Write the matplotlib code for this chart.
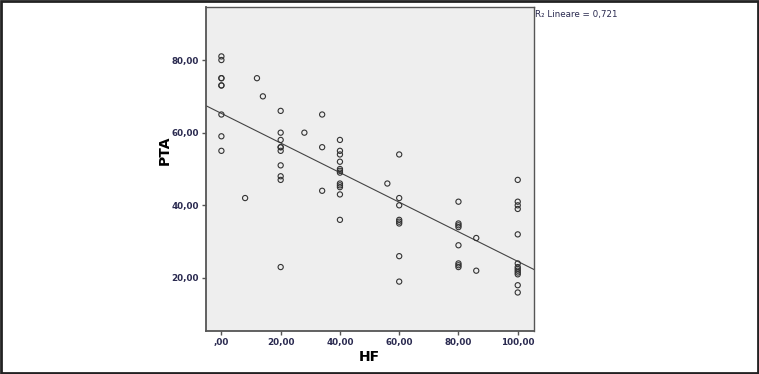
import numpy as np
from matplotlib import pyplot as plt
from matplotlib.ticker import FuncFormatter

# HF values and PTA values grouped per HF level
hf_levels = [0, 8, 12, 14, 20, 28, 34, 40, 56, 60, 80, 86, 100]
pta_groups = [
    [81, 80, 75, 75, 73, 73, 65, 59, 55],
    [42],
    [75],
    [70],
    [66, 60, 58, 56, 56, 55, 51, 48, 47, 23],
    [60],
    [65, 56, 44],
    [58, 55, 54, 52, 50, 49.5, 49, 46, 45.5, 45, 43, 36],
    [46],
    [54, 42, 40, 36, 35.5, 35, 26, 19],
    [41, 35, 34.5, 34, 29, 24, 23.5, 23],
    [31, 22],
    [47, 41, 40, 39, 32, 24, 23, 22.5, 22, 21.5, 21, 18, 16],
]
r2_label = "R\u2082 Lineare = 0,721"
x_ticks = [0, 20, 40, 60, 80, 100]
y_ticks = [20, 40, 60, 80]


def fmt(v, pos):
    s = "%.2f" % v
    s = s.replace(".", ",")
    if s.startswith("0,"):
        s = s[1:]
    return s


def main():
    hf = np.concatenate([[h] * len(g) for h, g in zip(hf_levels, pta_groups)])
    pta = np.concatenate(pta_groups)

    fig = plt.figure(figsize=(7.59, 3.74), dpi=100)
    ax = fig.add_axes([0.2714, 0.115, 0.4322, 0.8663])
    ax.set_facecolor("#eeeeee")

    ax.scatter(hf, pta, s=14, facecolors="none", edgecolors="#333333", linewidths=0.8, zorder=3)

    xlim = (-5.2, 105.5)
    slope, icpt = np.polyfit(hf, pta, 1)
    xs = np.array(xlim)
    ax.plot(xs, icpt + slope * xs, color="#444444", lw=0.8, zorder=2)

    ax.set_xlim(*xlim)
    ax.set_ylim(5.4, 94.6)
    ax.set_xticks(x_ticks)
    ax.set_yticks(y_ticks)
    ax.xaxis.set_major_formatter(FuncFormatter(fmt))
    ax.yaxis.set_major_formatter(FuncFormatter(fmt))
    ax.tick_params(length=3, width=1, color="#555555", labelsize=6.3, labelcolor="#2a2a50", pad=2)
    for lab in ax.get_xticklabels() + ax.get_yticklabels():
        lab.set_fontweight("bold")
    for sp in ax.spines.values():
        sp.set_color("#555555")
        sp.set_linewidth(1.0)
    ax.spines["left"].set_linewidth(1.3)
    ax.spines["bottom"].set_linewidth(1.3)

    ax.set_xlabel("HF", fontsize=10, fontweight="bold", va="center")
    ax.set_ylabel("PTA", fontsize=10, fontweight="bold", va="center")
    ax.xaxis.set_label_coords(0.497, -0.080)
    ax.yaxis.set_label_coords(-0.125, 0.559)

    fig.text(535 / 759, 1 - 14 / 374, r2_label, fontsize=6.3, color="#2a2a50", va="center", ha="left")

    # frame around whole picture
    fig.patches.append(plt.Rectangle((0.001, 0.002), 0.998, 0.996, transform=fig.transFigure,
                                     fill=False, edgecolor="#222222", lw=2))

    fig.savefig("out.png", dpi=100)


if __name__ == "__main__":
    main()
